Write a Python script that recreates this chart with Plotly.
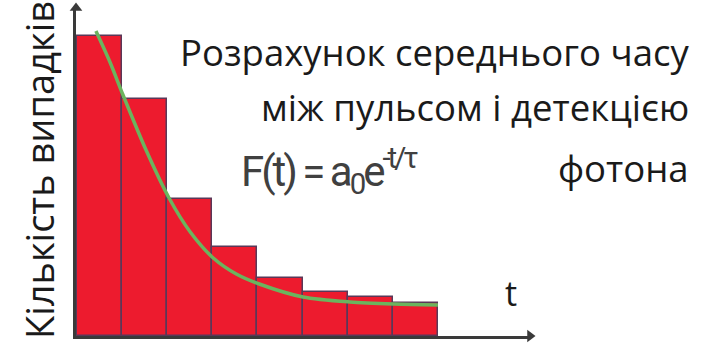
import plotly.graph_objects as go

W, H = 704, 345

# Histogram of photon detection delays (time bins) and event counts
bin_centers = [0.5, 1.5, 2.5, 3.5, 4.5, 5.5, 6.5, 7.5]
event_counts = [300, 237, 137, 89, 58, 44, 39, 33]

# Fitted decay curve F(t) = a0 * exp(-t/tau), sampled points
fit_t = [0.42, 0.73, 1.02, 1.53, 2.04, 2.51, 3.02, 3.53, 4.04, 5.01, 6.05, 7.03, 8.0]
fit_counts = [305, 274, 241, 186, 138, 104, 78, 62, 52, 39, 34, 32, 31]

y_title = "Кількість випадків"
title_lines = ["Розрахунок середнього часу", "між пульсом і детекцією", "фотона"]
formula = "F(t) = a<sub>0</sub>e<sup>-t/τ</sup>"
x_label = "t"

# plot area in pixels
X0, X1 = 76, 530
Y_TOP, Y_BOT = 8, 336
x_range = [-0.022, 10.04]
y_range = [0, 328]


def px(x):
    return x / W


def py(y):
    return 1 - y / H


AXIS = "#3A3A3A"

fig = go.Figure()
fig.add_trace(go.Bar(
    x=bin_centers, y=event_counts, width=1,
    marker=dict(color="#ED1B2E", line=dict(color="#5A3858", width=1.5)),
    hoverinfo="skip",
))
fig.add_trace(go.Scatter(
    x=fit_t, y=fit_counts, mode="lines",
    line=dict(color="#6BB45E", width=3.5, shape="spline", smoothing=0.8),
    hoverinfo="skip",
))
# arrowheads at the ends of both axes
fig.add_trace(go.Scatter(
    x=[x_range[0], x_range[1]], y=[y_range[1], y_range[0]], mode="markers",
    marker=dict(symbol=["triangle-up", "triangle-right"], size=11, color=AXIS),
    cliponaxis=False, hoverinfo="skip",
))

text_font = "Open Sans, Noto Sans, sans-serif"
ann = []
# y-axis title
ann.append(dict(xref="paper", yref="paper", x=px(39), y=py(170),
                xanchor="center", yanchor="middle", textangle=-90,
                text=y_title, showarrow=False,
                font=dict(family=text_font, size=38, color="#1A1A1A")))
# title block, right aligned
for txt, yc in zip(title_lines, [52, 107, 168]):
    ann.append(dict(xref="paper", yref="paper", x=px(691), y=py(yc),
                    xanchor="right", yanchor="middle", text=txt,
                    showarrow=False,
                    font=dict(family=text_font, size=36.5, color="#1A1A1A")))
# formula, condensed
ann.append(dict(xref="paper", yref="paper", x=px(239), y=py(171),
                xanchor="left", yanchor="middle",
                text='<span style="letter-spacing:-3px">' + formula + "</span>",
                showarrow=False,
                font=dict(family="Roboto, sans-serif", size=42, color="#404040")))
# x-axis label
ann.append(dict(xref="paper", yref="paper", x=px(511), y=py(293),
                xanchor="center", yanchor="middle", text=x_label,
                showarrow=False,
                font=dict(family=text_font, size=34, color="#1A1A1A")))

fig.update_layout(
    width=W, height=H,
    margin=dict(l=0, r=0, t=0, b=0),
    paper_bgcolor="white", plot_bgcolor="white",
    showlegend=False, bargap=0,
    xaxis=dict(domain=[px(X0), px(X1)], range=x_range, showgrid=False,
               zeroline=False, showticklabels=False, ticks="",
               showline=True, linecolor=AXIS, linewidth=3),
    yaxis=dict(domain=[py(Y_BOT), py(Y_TOP)], range=y_range, showgrid=False,
               zeroline=False, showticklabels=False, ticks="",
               showline=True, linecolor=AXIS, linewidth=2.5),
    annotations=ann,
)

fig.write_html("out.html", config={"displayModeBar": False})
